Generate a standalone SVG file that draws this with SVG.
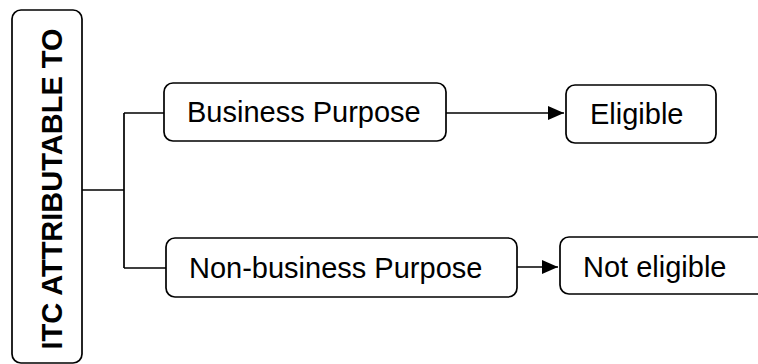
<svg xmlns="http://www.w3.org/2000/svg" width="758" height="364" viewBox="0 0 758 364">
<style>
.box{fill:#fff;stroke:#000;stroke-width:1.7}
.t{font-family:"Liberation Sans",Arial,sans-serif;font-size:29px;fill:#000}
.b{font-weight:bold}
.c{fill:none;stroke:#000;stroke-width:1.7}
</style>
<defs>
<marker id="ah" viewBox="0 0 10 10" refX="10" refY="5" markerWidth="16" markerHeight="14" markerUnits="userSpaceOnUse" orient="auto" preserveAspectRatio="none">
<path d="M0,0 L10,5 L0,10 Z" fill="#000"/>
</marker>
</defs>
<rect width="758" height="364" fill="#fff"/>
<g id="connectors">
<path class="c" d="M82,190 H124 M124,113 V268 M124,113 H164 M124,268 H166"/>
<path class="c" d="M446,113 H564" marker-end="url(#ah)"/>
<path class="c" d="M517,267 H558" marker-end="url(#ah)"/>
</g>
<g id="itc">
<rect class="box" x="12" y="10" width="70" height="353" rx="9"/>
<text class="t b" text-anchor="middle" transform="translate(62,189) rotate(-90)">ITC ATTRIBUTABLE TO</text>
</g>
<g id="business">
<rect class="box" x="164" y="83" width="282" height="58" rx="9"/>
<text class="t" x="187" y="122">Business Purpose</text>
</g>
<g id="nonbusiness">
<rect class="box" x="166" y="238" width="351" height="59" rx="9"/>
<text class="t" x="189" y="278">Non-business Purpose</text>
</g>
<g id="eligible">
<rect class="box" x="566" y="85" width="150" height="58" rx="9"/>
<text class="t" x="590" y="124">Eligible</text>
</g>
<g id="noteligible">
<rect class="box" x="560" y="237" width="220" height="57" rx="9"/>
<text class="t" x="583" y="277">Not eligible</text>
</g>
</svg>
